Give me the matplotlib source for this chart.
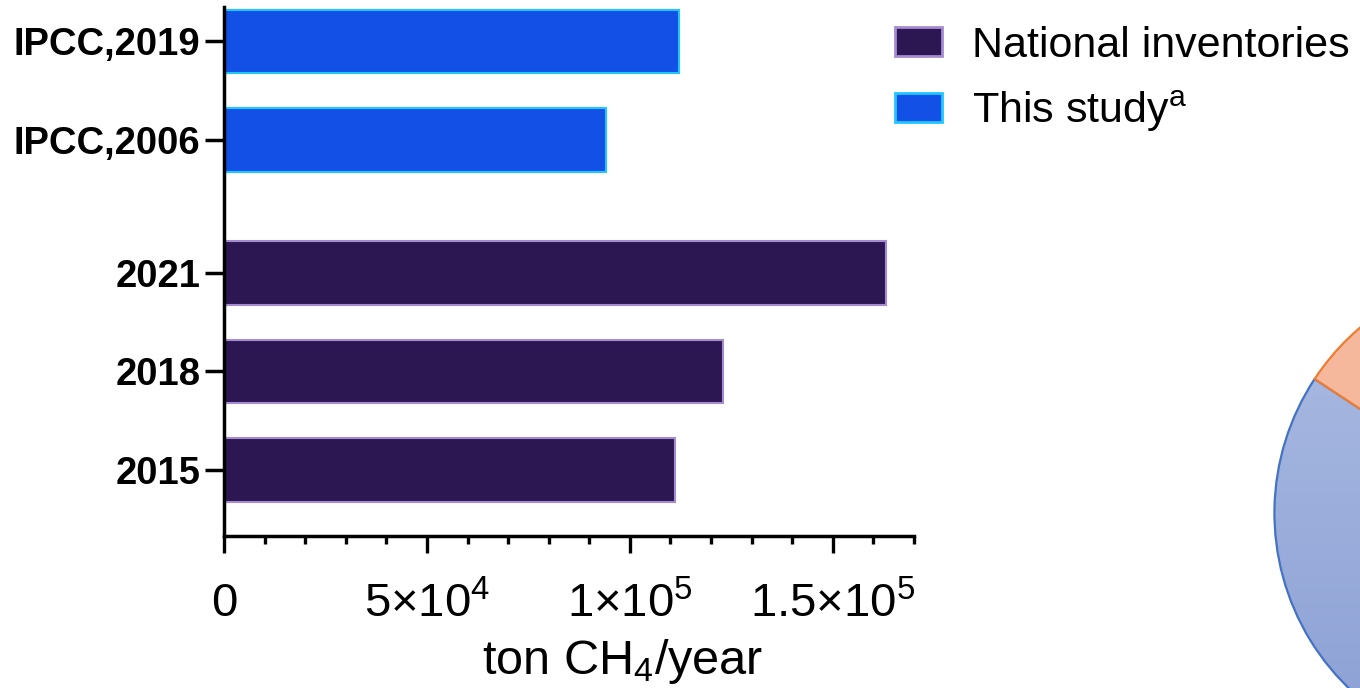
import matplotlib
matplotlib.use("Agg")
import matplotlib.pyplot as plt
import numpy as np
from matplotlib.colors import LinearSegmentedColormap
from matplotlib.patches import Patch
from matplotlib.ticker import MultipleLocator, FixedLocator, FixedFormatter

plt.rcParams["font.family"] = "Liberation Sans"
plt.rcParams["mathtext.fontset"] = "custom"
plt.rcParams["mathtext.rm"] = "Liberation Sans"
plt.rcParams["mathtext.it"] = "Liberation Sans:italic"

# CH4 emission estimates, ton/year
years = ["2015", "2018", "2021"]
national = [111000, 123000, 163000]
methods = ["IPCC,2006", "IPCC,2019"]
this_study = [94000, 112000]

x_ticks = [0, 50000, 100000, 150000]
x_ticklabels = ["0", "5×10$^{4}$", "1×10$^{5}$", "1.5×10$^{5}$"]

# source split shown in the side pie
pie_shares = [72, 28]

DARK = "#2c1752"
DARK_EDGE = "#a58bd0"
BLUE = "#1250e6"
BLUE_EDGE = "#22c6ff"
PIE_EDGE_BLUE = "#4472c4"
PIE_ORANGE = "#f5b89c"
PIE_EDGE_ORANGE = "#ed7d31"

fig = plt.figure(figsize=(13.6, 6.88), dpi=100, facecolor="white")
ax = fig.add_axes([224 / 1360, 152 / 688, (914 - 224) / 1360, (681 - 152) / 688])

pos_nat = [0, 1, 2]
pos_study = [3.35, 4.35]
h = 0.64
ax.barh(pos_nat, national, height=h, color=DARK, edgecolor=DARK_EDGE, linewidth=1.5)
ax.barh(pos_study, this_study, height=h, color=BLUE, edgecolor=BLUE_EDGE, linewidth=1.5)

ax.set_ylim(-0.67, 4.70)
ax.set_xlim(0, 170000)
ax.set_yticks(pos_nat + pos_study)
ax.set_yticklabels(years + methods, fontsize=27.5, fontweight="bold")

ax.xaxis.set_major_locator(FixedLocator(x_ticks))
ax.xaxis.set_major_formatter(FixedFormatter(x_ticklabels))
ax.xaxis.set_minor_locator(MultipleLocator(10000))

for side in ("top", "right"):
    ax.spines[side].set_visible(False)
for side in ("left", "bottom"):
    ax.spines[side].set_linewidth(2.5)

ax.tick_params(axis="y", length=14, width=2.5, pad=3)
ax.tick_params(axis="x", which="major", length=12, width=2.4, labelsize=34, pad=21)
ax.tick_params(axis="x", which="minor", length=6, width=2.4)
ax.set_xlabel("ton CH$_4$/year", fontsize=35)
ax.xaxis.set_label_coords((623 - 224) / 690, -(661 - 536) / 529, transform=ax.transAxes)
ax.xaxis.label.set_va("center")

handles = [
    Patch(facecolor=DARK, edgecolor=DARK_EDGE, linewidth=2, label="National inventories"),
    Patch(facecolor=BLUE, edgecolor=BLUE_EDGE, linewidth=2, label="This study$^{\\mathrm{a}}$"),
]
fig.legend(handles=handles, loc="upper left", bbox_to_anchor=(895 / 1360, 1 - 26 / 688),
           frameon=False, fontsize=31, handlelength=1.08, handleheight=0.66,
           handletextpad=0.72, labelspacing=0.52, borderpad=0, borderaxespad=0)

# side pie, mostly off the right edge
r_px = 246
cx, cy = 1518, 688 - 513
pax = fig.add_axes([(cx - r_px) / 1360, (cy - r_px) / 688, 2 * r_px / 1360, 2 * r_px / 688])
wedges, _ = pax.pie(pie_shares, startangle=146.6, counterclock=True, radius=1,
                    colors=["none", PIE_ORANGE], frame=True,
                    wedgeprops=dict(linewidth=1.6))
pax.set_xlim(-1.01, 1.01)
pax.set_ylim(-1.01, 1.01)
pax.axis("off")
wedges[0].set_edgecolor(PIE_EDGE_BLUE)
wedges[1].set_edgecolor(PIE_EDGE_ORANGE)
grad_cmap = LinearSegmentedColormap.from_list("pieblue", ["#8a9fd4", "#adbde3"])
grad = np.linspace(0, 1, 256).reshape(-1, 1)
im = pax.imshow(grad, extent=(-1, 1, -1, 1), origin="lower", cmap=grad_cmap,
                aspect="auto", zorder=0.5)
im.set_clip_path(wedges[0])
wedges[0].set_zorder(1)
wedges[1].set_zorder(1)

fig.savefig("out.png", dpi=100, facecolor="white")
